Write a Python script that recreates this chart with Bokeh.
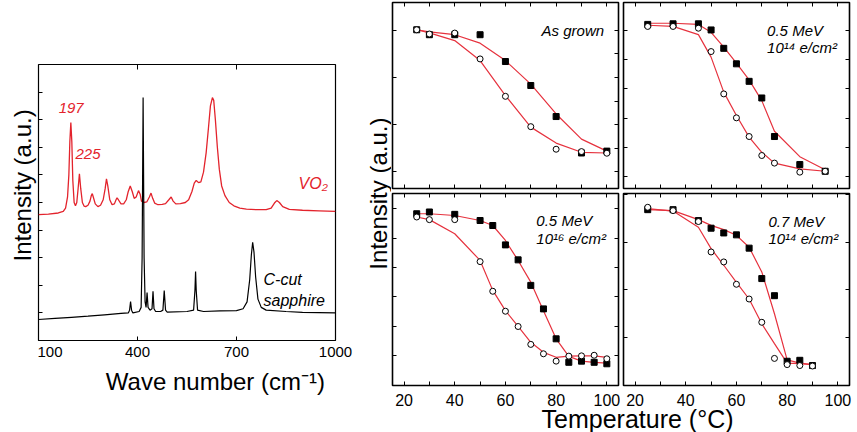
from math import pi
from bokeh.plotting import figure
from bokeh.models import FixedTicker, LinearAxis, Label, Range1d
from bokeh.layouts import row, column
from bokeh.embed import file_html
from bokeh.resources import INLINE

FONT = "Liberation Sans"
RED = "#e3232c"
LRED = "#e6323e"

# ---------------- Raman spectra ----------------
vo2_wn = [100, 130, 160, 175, 182, 188, 192, 195, 198, 201, 204, 208, 212, 216, 220, 224, 228,
          233, 238, 243, 250, 256, 260, 263, 266, 272, 280, 288, 296, 302, 306, 310, 316, 323,
          330, 335, 338, 342, 350, 358, 366, 372, 378, 384, 390, 396, 403, 408, 412, 420, 428,
          436, 441, 446, 452, 462, 475, 485, 495, 502, 508, 516, 530, 545, 555, 565, 572, 578,
          585, 592, 600, 608, 615, 621, 627, 631, 636, 642, 648, 655, 665, 678, 692, 710, 730,
          760, 790, 805, 815, 822, 830, 840, 860, 900, 950, 1000]
vo2_int = [4.56, 4.58, 4.62, 4.68, 4.8, 5.2, 6.0, 7.2, 7.9, 7.2, 5.8, 5.0, 4.88, 5.0, 5.5, 6.04, 5.5,
           5.0, 4.87, 4.85, 4.9, 5.05, 5.25, 5.32, 5.2, 4.95, 4.85, 4.9, 5.1, 5.5, 5.86, 5.6, 5.1, 4.92,
           4.95, 5.1, 5.17, 5.1, 4.95, 4.95, 5.1, 5.4, 5.6, 5.4, 5.15, 5.2, 5.43, 5.3, 5.05, 5.0, 5.02,
           5.2, 5.34, 5.15, 4.98, 4.92, 4.93, 4.96, 5.1, 5.2, 5.05, 4.95, 4.96, 5.0, 5.1, 5.4, 5.7, 5.8,
           5.72, 5.75, 6.1, 6.8, 7.7, 8.5, 8.8, 8.7, 8.0, 7.0, 6.2, 5.6, 5.25, 5.0, 4.88, 4.8, 4.76,
           4.74, 4.74, 4.8, 4.98, 5.07, 5.0, 4.85, 4.75, 4.72, 4.7, 4.68]

sap_wn = [100, 150, 200, 250, 300, 350, 372, 376, 379, 382, 386, 405, 411, 414, 417, 420, 423, 426,
          429, 432, 438, 444, 447, 450, 455, 470, 477, 481, 485, 490, 550, 570, 574, 576, 578, 582,
          600, 650, 700, 720, 732, 740, 745, 749, 753, 758, 765, 775, 790, 850, 900, 1000]
sap_int = [0.76, 0.8, 0.84, 0.88, 0.93, 0.98, 1.0, 1.1, 1.41, 1.1, 1.0, 1.05, 1.2, 3.0, 8.8, 3.0, 1.4, 1.2,
           1.74, 1.2, 1.1, 1.15, 1.78, 1.15, 1.05, 1.05, 1.1, 1.81, 1.1, 1.03, 1.05, 1.1, 1.8, 2.5, 1.8, 1.1,
           1.05, 1.07, 1.08, 1.15, 1.4, 2.2, 3.1, 3.56, 3.2, 2.3, 1.5, 1.2, 1.1, 1.05, 1.02, 1.0]

wn_ticks = [100, 400, 700, 1000]

# ---------------- Hysteresis panels ----------------
# As grown
ag_T = [25, 30, 40, 50, 60, 70, 80, 90, 100]
ag_heat = [6.03, 5.82, 5.82, 5.82, 4.68, 3.66, 2.34, 0.79, 0.87]
ag_cool = [6.03, 5.85, 5.89, 4.79, 3.2, 1.91, 0.95, 0.85, 0.78]
ag_heat_fit = [6.03, 5.94, 5.82, 5.46, 4.72, 3.72, 2.45, 1.38, 0.87]
ag_cool_fit = [6.03, 5.90, 5.57, 4.72, 3.23, 1.89, 1.21, 0.82, 0.79]

# 0.5 MeV 1e14
a_T = [25, 35, 45, 50, 55, 60, 65, 70, 75, 85, 95]
a_heat = [5.21, 5.23, 5.23, 5.02, 4.39, 3.86, 3.26, 2.69, 1.37, 0.41, 0.18]
a_cool = [5.14, 5.14, 5.08, 4.28, 2.83, 2.01, 1.37, 0.72, 0.46, 0.15, 0.18]
a_heat_fit = [5.25, 5.25, 5.21, 4.94, 4.43, 3.88, 3.31, 2.6, 1.55, 0.68, 0.23]
a_cool_fit = [5.18, 5.14, 4.86, 4.09, 2.89, 2.09, 1.35, 0.83, 0.46, 0.26, 0.18]

# 0.5 MeV 1e16
b_T = [25, 30, 40, 50, 55, 60, 65, 70, 75, 80, 85, 90, 95, 100]
b_heat = [4.83, 4.89, 4.81, 4.6, 4.43, 3.77, 3.26, 2.39, 1.59, 0.57, -0.23, -0.19, -0.23, -0.28]
b_cool = [4.72, 4.63, 4.63, 3.2, 2.19, 1.51, 0.99, 0.38, 0.06, -0.19, -0.02, -0.01, 0.01, -0.11]
b_heat_fit = [4.83, 4.83, 4.77, 4.6, 4.43, 3.92, 3.24, 2.5, 1.53, 0.57, -0.03, -0.19, -0.23, -0.26]
b_cool_fit = [4.72, 4.63, 4.15, 3.24, 2.22, 1.53, 0.99, 0.45, 0.11, -0.06, -0.02, -0.01, -0.01, -0.06]

# 0.7 MeV 1e14
c_T = [25, 35, 45, 50, 55, 60, 65, 70, 75, 80, 85, 90]
c_heat = [2.69, 2.69, 2.46, 2.30, 2.20, 2.16, 1.88, 1.24, 0.88, -0.50, -0.48, -0.59]
c_cool = [2.74, 2.67, 2.44, 1.80, 1.59, 1.12, 0.81, 0.32, -0.44, -0.57, -0.59, -0.60]
c_heat_fit = [2.69, 2.67, 2.48, 2.36, 2.27, 2.15, 1.90, 1.38, 0.50, -0.47, -0.54, -0.57]
c_cool_fit = [2.71, 2.66, 2.32, 1.87, 1.52, 1.16, 0.81, 0.29, -0.13, -0.54, -0.55, -0.57]

T_ticks = [20, 40, 60, 80, 100]
T_minor = [30, 50, 70, 90]


def hide_labels(ax):
    ax.major_label_text_color = None
    ax.major_label_text_font_size = "1px"
    ax.major_label_standoff = 0


def style_axis(ax, ticks, minor=None, tick_len=4):
    ax.ticker = FixedTicker(ticks=ticks, minor_ticks=minor or [])
    ax.major_tick_in = tick_len
    ax.major_tick_out = 0
    ax.minor_tick_in = tick_len if minor else 0
    ax.minor_tick_out = 0
    ax.axis_line_color = None
    ax.axis_label_standoff = 0
    ax.major_tick_line_color = "black"
    ax.minor_tick_line_color = "black"
    ax.major_label_text_font = FONT
    ax.major_label_text_color = "black"


def lab(fig, x, y, text, size, color="black", italic=False, align="left", angle=0.0,
        baseline="middle"):
    fig.add_layout(Label(x=x, y=y, text=text, text_font=FONT, text_font_size=size,
                         text_color=color, text_font_style="italic" if italic else "normal",
                         text_align=align, text_baseline=baseline, angle=angle))


def strip(w, h, **kw):
    s = figure(frame_width=w, frame_height=h, x_range=Range1d(0, 1), y_range=Range1d(0, 1),
               min_border_left=0, min_border_right=0, min_border_top=0, min_border_bottom=0,
               x_axis_location=None, y_axis_location=None,
               output_backend="svg", toolbar_location=None, **kw)
    s.grid.visible = False
    s.outline_line_color = None
    s.background_fill_color = None
    s.border_fill_color = None
    return s


# ---------------- Left: Raman ----------------
p = figure(frame_width=297, frame_height=276, x_range=Range1d(100, 1000), y_range=Range1d(0, 10),
           min_border_left=1, min_border_right=25, min_border_top=64, min_border_bottom=26,
           output_backend="svg", toolbar_location=None)
p.grid.visible = False
p.outline_line_color = "black"
p.outline_line_width = 1.2
style_axis(p.xaxis[0], wn_ticks)
p.xaxis[0].major_label_text_font_size = "15px"
p.xaxis[0].major_label_standoff = 6
style_axis(p.yaxis[0], [1, 2, 3, 4, 5, 6, 7, 8, 9])
hide_labels(p.yaxis[0])
top = LinearAxis()
style_axis(top, [400, 700], tick_len=5)
hide_labels(top)
p.add_layout(top, "above")

p.line(vo2_wn, vo2_int, line_color=RED, line_width=1.3)
p.line(sap_wn, sap_int, line_color="black", line_width=1.2)

lab(p, 161, 8.44, "197", "15px", RED, True)
lab(p, 212, 6.74, "225", "15px", RED, True)
lab(p, 888, 5.69, "VO₂", "16px", RED, True)
lab(p, 782, 2.2, "C-cut", "16px", "black", True)
lab(p, 782, 1.45, "sapphire", "16px", "black", True)

ylt = strip(37, 432)
lab(ylt, 0.608, 0.572, "Intensity (a.u.)", "24px", align="center", angle=pi / 2)
xtl = strip(324, 66)
lab(xtl, 0.546, 0.773, "Wave number (cm⁻¹)", "24px", align="center")
ytr = strip(30, 432)
lab(ytr, 0.55, 0.553, "Intensity (a.u.)", "24px", align="center", angle=pi / 2)


# ---------------- Right panels ----------------
def panel(T, heat, cool, heat_fit, cool_fit, yr, yt_left, yt_right, bottom_row, borders, fh, texts):
    bl, br, bt, bb = borders
    f = figure(frame_width=226, frame_height=fh, x_range=Range1d(15.45, 104.6), y_range=Range1d(*yr),
               min_border_left=bl, min_border_right=br, min_border_top=bt, min_border_bottom=bb,
               output_backend="svg", toolbar_location=None)
    f.grid.visible = False
    f.outline_line_color = "black"
    f.outline_line_width = 1.6
    style_axis(f.xaxis[0], T_ticks, T_minor)
    if bottom_row:
        f.xaxis[0].major_label_text_font_size = "16px"
        f.xaxis[0].major_label_standoff = 8
    else:
        hide_labels(f.xaxis[0])
    style_axis(f.yaxis[0], yt_left)
    hide_labels(f.yaxis[0])
    ta = LinearAxis()
    style_axis(ta, T_ticks, T_minor)
    hide_labels(ta)
    f.add_layout(ta, "above")
    ra = LinearAxis()
    style_axis(ra, yt_right)
    hide_labels(ra)
    f.add_layout(ra, "right")
    f.line(T, heat_fit, line_color=LRED, line_width=1.2)
    f.line(T, cool_fit, line_color=LRED, line_width=1.2)
    f.scatter(T, heat, marker="square", size=6, fill_color="black", line_color="black")
    f.scatter(T, cool, marker="circle", size=6, fill_color="white", line_color="black", line_width=1)
    for (x, y, t, al) in texts:
        lab(f, x, y, t, "15px", "black", True, align=al)
    return f


tl = panel(ag_T, ag_heat, ag_cool, ag_heat_fit, ag_cool_fit, (-0.72, 7.19), [0, 2, 4, 6],
           [0, 1, 2, 3, 4, 5, 6], False, (1, 2, 2, 2), 186,
           [(98.9, 6.0, "As grown", "right")])
tr = panel(a_T, a_heat, a_cool, a_heat_fit, a_cool_fit, (-0.41, 5.96), [0, 1, 2, 3, 4, 5],
           [0, 1, 2, 3, 4, 5], False, (3, 4, 2, 2), 186,
           [(72.1, 5.0, "0.5 MeV", "left"), (72.1, 4.42, "10¹⁴ e/cm²", "left")])
bl_ = panel(b_T, b_heat, b_cool, b_heat_fit, b_cool_fit, (-1.02, 5.52), [0, 1, 2, 3, 4, 5],
            [0, 1, 2, 3, 4, 5], True, (1, 2, 3, 30), 192,
            [(72.2, 4.6, "0.5 MeV", "left"), (72.2, 4.0, "10¹⁶ e/cm²", "left")])
br_ = panel(c_T, c_heat, c_cool, c_heat_fit, c_cool_fit, (-1.01, 3.03), [0, 1, 2, 3],
            [0, 1, 2, 3], True, (3, 4, 3, 30), 192,
            [(72.6, 2.45, "0.7 MeV", "left"), (72.6, 2.08, "10¹⁴ e/cm²", "left")])

panels = column(row(tl, tr), row(bl_, br_))
main = row(ylt, column(p, xtl), ytr, panels)

# full-width transparent strip for the shared x title, pulled up over the bottom 28 px
xt = strip(853, 28, styles={"margin-top": "-28px"})
lab(xt, 0.7468, 0.5, "Temperature (°C)", "25px", align="center", baseline="middle")

root = column(main, xt)

open("out.html", "w").write(file_html(root, INLINE))
